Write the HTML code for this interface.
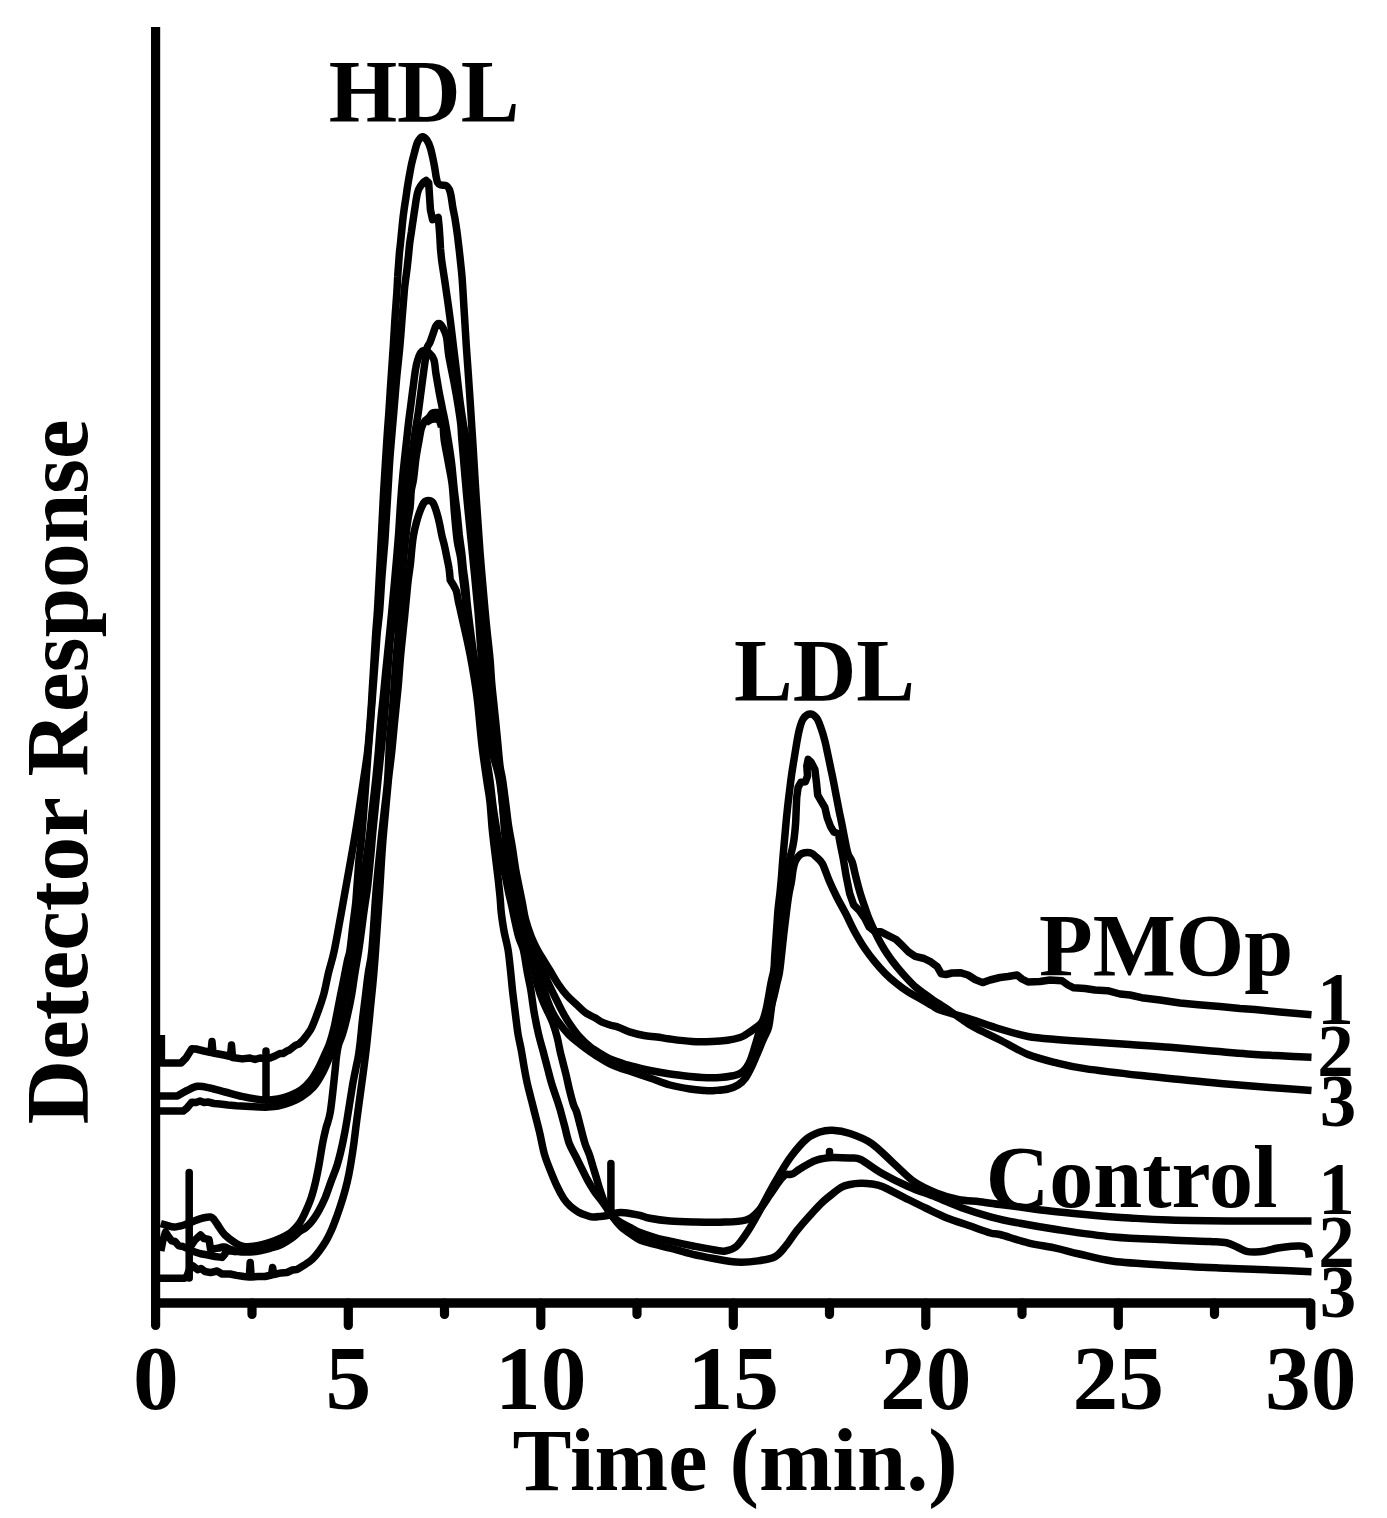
<!DOCTYPE html>
<html lang="en">
<head>
<meta charset="utf-8">
<title>Lipoprotein profile chromatogram</title>
<style>
html,body{margin:0;padding:0;background:#fff;}
body{width:1387px;height:1518px;overflow:hidden;}
svg{display:block;}
text{font-family:"Liberation Serif","DejaVu Serif",serif;font-weight:bold;fill:#000;}
.ax{fill:none;stroke:#000;stroke-width:9.7;stroke-linecap:round;stroke-linejoin:miter;}
.tk{fill:none;stroke:#000;stroke-width:9.2;stroke-linecap:round;}
.cv{fill:none;stroke:#000;stroke-width:7.5;stroke-linecap:butt;stroke-linejoin:round;}
</style>
</head>
<body>
<svg width="1387" height="1518" viewBox="0 0 1387 1518">
<rect width="1387" height="1518" fill="#fff"/>
<!-- AXES -->
<g id="axes">
<path class="ax" d="M155.6 27 V1303" style="stroke-linecap:butt;stroke-width:9.2"/>
<path class="ax" d="M151 1303 H1311" style="stroke-linecap:butt"/>
<path class="tk" d="M155.6 1303V1325.4 M348.3 1303V1325.4 M540.8 1303V1325.4 M733.3 1303V1325.4 M925.8 1303V1325.4 M1118.3 1303V1325.4 M1310.8 1303V1325.4"/>
<path class="tk" d="M252 1303V1314.4 M444.5 1303V1314.4 M637 1303V1314.4 M829.5 1303V1314.4 M1022 1303V1314.4 M1214.5 1303V1314.4"/>
</g>
<!-- CURVES -->
<g id="curves">
<g class="cv">
<path id="P1" d="M161.4 1035.0L161.4 1063.0L181.0 1063.0L186.0 1058.0L191.8 1048.8L196.0 1049.0L204.0 1051.0L211.0 1052.5L212.0 1041.5L213.0 1053.0L224.0 1055.0L230.5 1056.5L231.5 1045.0L232.5 1057.5L242.3 1058.9L250.0 1058.0L255.0 1059.5L260.0 1058.0L264.0 1058.5L270.0 1058.0L275.0 1056.0L279.8 1053.5L283.0 1053.5L287.0 1051.0L290.0 1049.7L295.6 1045.2L299.0 1044.0L303.4 1039.6 C304.7 1037.7 308.9 1033.1 311.3 1028.4C313.7 1023.7 315.9 1017.2 318.0 1011.6C320.1 1006.0 321.8 1001.3 323.6 994.8C325.4 988.3 326.8 979.9 328.6 972.4C330.4 964.9 332.2 960.6 334.4 950.0C336.6 939.4 339.9 920.3 342.0 908.8C344.1 897.3 345.2 890.7 347.0 880.8C348.8 870.9 351.1 858.0 352.6 849.4C354.1 840.8 354.9 836.2 356.0 829.3C357.1 822.4 358.1 816.2 359.3 808.0C360.6 799.8 362.2 788.7 363.5 780.0C364.8 771.3 366.1 763.4 367.1 755.6C368.1 747.8 368.7 740.7 369.3 733.2C369.9 725.7 370.4 719.2 371.0 710.8C371.6 702.4 372.1 692.1 372.7 682.8C373.3 673.5 373.9 663.2 374.4 654.8C374.9 646.4 375.3 639.9 375.8 632.4C376.3 624.9 376.8 621.5 377.5 610.0C378.2 598.5 379.3 576.6 380.0 563.2C380.7 549.8 381.1 540.8 381.7 529.6C382.3 518.4 382.8 506.3 383.4 496.0C384.0 485.7 384.5 477.7 385.1 468.0C385.7 458.3 386.4 447.1 387.0 438.0C387.6 428.9 388.1 422.9 388.8 413.2C389.5 403.5 390.2 390.8 391.0 379.6C391.8 368.4 392.6 356.3 393.3 346.0C394.0 335.7 394.4 327.3 395.0 318.0C395.6 308.7 396.6 296.9 397.0 290.0C397.4 283.1 397.4 280.9 397.7 276.8C397.9 272.7 398.2 269.3 398.5 265.6C398.8 261.9 399.0 258.1 399.3 254.4C399.6 250.7 400.1 246.9 400.5 243.2C400.9 239.5 401.2 235.7 401.6 232.0C402.0 228.3 402.3 224.5 402.7 220.8C403.1 217.1 403.6 213.3 404.1 209.6C404.6 205.9 405.2 202.1 405.8 198.4C406.4 194.7 406.8 190.9 407.4 187.2C408.0 183.5 408.6 179.7 409.3 176.0C410.0 172.3 410.6 168.5 411.4 164.8C412.2 161.1 413.2 157.3 414.2 153.6C415.2 149.9 416.2 145.2 417.5 142.4C418.8 139.6 420.4 137.2 422.0 136.8C423.6 136.4 425.6 138.3 427.0 140.2C428.4 142.1 429.5 145.2 430.4 148.0C431.3 150.8 431.9 153.8 432.6 157.0C433.3 160.2 434.0 163.8 434.6 167.0C435.2 170.2 435.5 173.4 436.0 176.0C436.5 178.6 436.9 181.2 437.7 182.7C438.5 184.2 439.6 184.5 441.0 185.0C442.4 185.5 444.7 184.8 446.1 185.5C447.5 186.2 448.6 187.6 449.4 189.4C450.2 191.2 450.5 193.2 451.1 196.2C451.7 199.2 452.2 203.7 452.8 207.4C453.4 211.1 454.4 214.9 455.0 218.6C455.6 222.3 456.1 225.7 456.7 229.8C457.3 233.9 457.9 239.1 458.4 243.2C458.9 247.3 459.3 250.7 459.7 254.4C460.1 258.1 460.5 261.9 460.9 265.6C461.3 269.3 461.7 272.7 462.0 276.8C462.3 280.9 462.5 283.1 462.9 290.0C463.3 296.9 464.0 308.7 464.6 318.0C465.2 327.3 465.7 336.7 466.3 346.0C466.9 355.3 467.7 364.7 468.3 374.0C468.9 383.3 469.6 392.7 470.2 402.0C470.8 411.3 471.6 423.3 472.0 430.0C472.4 436.7 472.1 431.0 472.8 442.0C473.5 453.0 474.9 477.7 476.1 496.0C477.3 514.3 478.5 533.0 480.0 552.0C481.5 571.0 483.7 595.7 485.0 610.0C486.3 624.3 486.9 629.6 487.8 638.0C488.7 646.4 489.5 652.9 490.1 660.4C490.8 667.9 491.1 676.3 491.7 682.8C492.2 689.3 492.7 693.1 493.4 699.6C494.1 706.1 494.9 714.5 495.7 722.0C496.4 729.5 497.2 736.9 497.9 744.4C498.6 751.9 499.3 760.9 500.1 766.8C500.9 772.7 501.7 774.1 502.6 780.0C503.5 785.9 504.6 794.9 505.6 802.4C506.6 809.9 507.3 817.3 508.4 824.8C509.5 832.3 511.1 839.7 512.3 847.2C513.5 854.7 514.6 863.1 515.7 869.6C516.8 876.1 517.9 880.8 519.0 886.4C520.1 892.0 521.3 897.6 522.4 903.2C523.5 908.8 524.2 914.4 525.7 920.0C527.2 925.6 529.3 931.8 531.3 936.8C533.3 941.8 535.5 946.1 537.5 950.0C539.5 953.9 541.4 956.6 543.5 960.0C545.6 963.4 547.5 966.4 550.0 970.5C552.5 974.6 555.7 980.3 558.5 984.5C561.3 988.7 564.0 992.2 567.0 995.5C570.0 998.8 573.5 1001.7 576.5 1004.5C579.5 1007.3 582.0 1010.2 585.2 1012.5C588.4 1014.8 593.0 1016.7 595.8 1018.3C598.6 1019.9 599.6 1021.1 602.0 1022.2C604.4 1023.3 607.2 1024.1 610.0 1025.0C612.8 1025.9 615.8 1026.3 619.0 1027.5C622.2 1028.7 625.2 1030.6 629.4 1031.9C633.5 1033.2 639.3 1034.7 643.9 1035.5C648.5 1036.3 652.6 1036.4 657.0 1037.0C661.4 1037.6 664.2 1038.2 670.0 1039.0C675.8 1039.8 685.0 1041.1 692.0 1041.5C699.0 1041.9 706.1 1041.7 712.0 1041.5C717.9 1041.3 722.9 1040.9 727.6 1040.2C732.3 1039.5 736.9 1038.5 740.0 1037.5C743.1 1036.5 743.9 1035.8 746.0 1034.5C748.1 1033.2 750.1 1032.0 752.7 1030.0C755.3 1028.0 759.5 1025.6 761.7 1022.4C763.9 1019.2 764.7 1014.7 765.7 1011.0C766.8 1007.3 767.1 1004.7 768.0 1000.0C768.9 995.3 770.1 987.7 771.0 983.0C771.9 978.3 772.5 976.7 773.5 972.0C774.5 967.3 776.1 959.7 777.0 955.0C777.9 950.3 778.3 948.7 779.0 944.0C779.7 939.3 780.4 932.7 781.0 927.0C781.6 921.3 782.3 915.6 782.8 910.0C783.3 904.4 783.6 898.3 784.0 893.6C784.4 888.9 784.8 885.9 785.3 882.0C785.8 878.1 786.2 874.2 787.0 870.0C787.8 865.8 789.3 860.5 790.2 856.8C791.1 853.1 791.8 851.0 792.5 847.8C793.2 844.6 793.7 841.8 794.2 837.7C794.7 833.6 795.3 827.5 795.6 823.2C795.9 818.9 796.0 813.9 796.1 812.0 L796.7 797.4L798.1 787.4L800.9 782.3L805.4 781.8L807.5 776.0L806.8 766.0L808.2 759.4L811.0 762.0L814.9 769.4L816.5 782.9L817.7 795.2L821.6 801.9L824.9 807.5L827.2 817.6L830.5 826.5L833.9 832.1L838.4 833.8L840.6 845.6L842.9 856.8L843.5 860.0L846.3 876.8L849.7 893.6L853.6 904.8L859.2 910.4L864.8 918.2L869.3 927.2L874.9 931.7L880.5 931.7L888.3 935.6L896.1 939.5L902.9 946.2L908.5 951.8L915.2 956.3L924.1 958.5L930.9 961.9L937.0 966.4L941.3 973.9L946.0 974.5L952.0 973.0L960.9 972.8L968.0 975.0L975.0 979.5L982.6 982.6L990.0 980.0L1000.0 977.5L1008.0 976.5L1017.0 975.0L1022.0 979.0L1028.0 982.0L1040.0 981.5L1050.0 980.0L1062.0 980.7L1068.0 985.0L1073.7 987.8L1085.0 988.5L1095.0 990.0L1107.6 990.7L1120.0 994.0L1130.0 995.0L1141.6 997.7L1160.0 1000.0L1180.0 1003.0L1198.3 1004.8L1220.0 1006.5L1240.0 1008.5L1255.0 1009.5L1280.0 1012.0L1311.5 1014.7"/>
<path id="P2" d="M160.0 1096.0L177.4 1096.0 C179.0 1095.1 183.6 1092.1 187.0 1090.5C190.4 1088.9 193.8 1086.7 197.6 1086.3C201.4 1085.9 205.4 1087.0 210.0 1088.0C214.6 1089.0 220.0 1090.7 225.0 1092.0C230.0 1093.3 233.8 1094.7 240.0 1096.0C246.2 1097.3 256.2 1099.5 262.5 1100.0C268.8 1100.5 273.4 1099.8 278.0 1099.0C282.6 1098.2 286.1 1097.0 290.0 1095.5C293.9 1094.0 297.7 1092.4 301.2 1089.8C304.7 1087.2 308.1 1083.6 311.0 1080.0C313.9 1076.4 316.2 1072.3 318.5 1068.0C320.8 1063.7 323.2 1058.0 325.0 1054.0C326.8 1050.0 327.9 1048.3 329.4 1044.0C330.9 1039.7 332.6 1033.8 333.9 1028.4C335.2 1023.0 336.2 1017.2 337.3 1011.6C338.4 1006.0 339.5 1000.4 340.6 994.8C341.7 989.2 342.9 983.6 344.0 978.0C345.1 972.4 346.3 965.9 347.3 961.2C348.3 956.5 349.1 955.9 350.0 950.0C350.9 944.1 351.9 933.4 352.9 925.6C353.8 917.8 354.9 910.7 355.7 903.2C356.4 895.7 356.8 888.3 357.4 880.8C358.0 873.3 358.6 864.2 359.1 858.4C359.7 852.6 360.2 850.9 360.7 846.0C361.2 841.1 361.8 835.3 362.3 829.0C362.9 822.7 363.4 816.2 364.0 808.0C364.6 799.8 365.4 789.7 366.1 780.0C366.8 770.3 367.6 759.7 368.3 750.0C369.0 740.3 369.9 730.4 370.5 722.0C371.1 713.6 371.6 707.1 372.2 699.6C372.8 692.1 373.3 684.7 373.9 677.2C374.5 669.7 375.0 662.3 375.6 654.8C376.2 647.3 376.6 639.9 377.3 632.4C378.0 624.9 378.9 619.7 379.7 610.0C380.5 600.3 381.2 585.9 382.1 574.4C383.0 562.9 384.1 551.1 384.9 540.8C385.6 530.5 386.0 522.1 386.6 512.8C387.2 503.5 387.8 493.2 388.3 484.8C388.8 476.4 389.1 469.7 389.6 462.4C390.1 455.1 390.6 449.2 391.3 441.0C392.0 432.8 392.8 423.4 393.7 413.2C394.6 403.0 395.5 390.8 396.5 379.6C397.5 368.4 399.0 356.3 399.9 346.0C400.8 335.7 401.4 327.3 402.1 318.0C402.9 308.7 403.8 296.9 404.4 290.0C405.0 283.1 405.5 280.9 406.0 276.8C406.5 272.7 407.0 269.3 407.4 265.6C407.8 261.9 408.2 258.1 408.6 254.4C409.0 250.7 409.2 246.9 409.7 243.2C410.2 239.5 410.8 235.7 411.4 232.0C411.9 228.3 412.4 224.5 413.0 220.8C413.6 217.1 414.1 213.3 414.7 209.6C415.3 205.9 415.8 201.8 416.4 198.4C417.0 195.0 417.5 192.0 418.6 189.4C419.7 186.8 421.8 184.2 423.1 182.7C424.4 181.2 425.7 180.9 426.2 180.5 L428.7 182.7L429.3 192.8L430.4 209.6L432.6 219.7L436.0 218.5L438.2 217.4L439.1 226.4L439.9 237.6L440.5 248.8L441.6 260.0L443.3 271.2L445.0 282.4L446.1 290.0 C446.8 294.7 448.8 308.7 450.0 318.0C451.2 327.3 452.3 336.7 453.4 346.0C454.5 355.3 455.7 364.7 456.8 374.0C457.9 383.3 459.0 393.5 460.1 402.0C461.2 410.5 462.5 418.7 463.5 425.0C464.5 431.3 464.8 428.2 466.0 440.0C467.2 451.8 469.3 477.3 471.0 496.0C472.7 514.7 474.2 533.0 476.0 552.0C477.8 571.0 479.9 592.8 481.5 610.0C483.1 627.2 484.1 640.7 485.4 655.0C486.6 669.3 487.3 681.2 489.0 696.0C490.7 710.8 493.4 730.0 495.5 744.0C497.6 758.0 499.4 764.7 501.5 780.0C503.6 795.3 505.8 819.2 508.0 836.0C510.2 852.8 512.5 866.8 515.0 880.8C517.5 894.8 519.8 908.5 523.0 920.0C526.2 931.5 531.5 942.3 534.5 950.0C537.5 957.7 538.8 960.6 541.0 966.0C543.2 971.4 545.4 976.8 548.0 982.5C550.6 988.2 554.1 995.2 556.5 1000.0C558.9 1004.8 560.0 1007.4 562.3 1011.5C564.5 1015.6 567.2 1020.3 570.0 1024.4C572.8 1028.5 575.6 1032.5 579.0 1036.3C582.4 1040.1 586.5 1044.0 590.3 1047.0C594.1 1050.0 598.7 1052.5 602.0 1054.5C605.3 1056.5 607.0 1057.7 610.0 1059.0C613.0 1060.3 616.8 1061.4 620.0 1062.5C623.2 1063.6 624.4 1064.2 629.4 1065.5C634.4 1066.8 643.2 1069.1 650.0 1070.5C656.8 1071.9 663.3 1073.0 670.0 1074.0C676.7 1075.0 684.7 1075.9 690.0 1076.5C695.3 1077.1 697.0 1077.3 702.0 1077.5C707.0 1077.7 714.8 1077.8 720.0 1077.5C725.2 1077.2 729.5 1076.5 733.0 1075.8C736.5 1075.0 738.8 1074.4 741.0 1073.0C743.2 1071.6 744.9 1069.7 746.5 1067.5C748.1 1065.3 749.3 1062.8 750.5 1060.0C751.7 1057.2 752.5 1054.2 753.5 1051.0C754.5 1047.8 755.4 1044.5 756.5 1041.0C757.6 1037.5 758.5 1033.1 760.0 1030.0C761.5 1026.9 764.2 1025.6 765.8 1022.4C767.4 1019.2 768.3 1014.7 769.5 1011.0C770.7 1007.3 771.8 1004.7 773.0 1000.0C774.2 995.3 775.9 987.7 777.0 983.0C778.1 978.3 778.8 976.7 779.5 972.0C780.2 967.3 781.0 959.7 781.5 955.0C782.0 950.3 782.2 948.7 782.7 944.0C783.2 939.3 783.9 932.7 784.6 927.0C785.3 921.3 786.0 915.6 786.7 910.0C787.4 904.4 788.2 898.2 789.0 893.6C789.8 889.0 790.6 886.3 791.3 882.4C792.0 878.5 792.4 873.4 793.0 870.0C793.6 866.6 794.1 864.2 795.0 862.0C795.9 859.8 796.9 858.2 798.1 856.8C799.3 855.4 800.4 854.2 802.0 853.5C803.6 852.8 805.9 852.5 807.6 852.5C809.3 852.5 810.6 852.8 812.0 853.5C813.4 854.2 814.3 855.1 816.0 856.8C817.7 858.4 820.0 859.5 822.2 863.4C824.4 867.3 826.6 874.6 829.0 880.2C831.4 885.8 834.0 891.4 836.8 897.0C839.6 902.6 842.8 908.0 845.8 913.8C848.8 919.6 851.5 925.9 854.7 931.7C857.9 937.5 861.4 943.5 864.8 948.5C868.2 953.5 871.5 957.8 874.9 961.9C878.2 966.0 881.4 969.5 884.9 973.1C888.4 976.7 892.2 980.0 896.1 983.2C900.0 986.4 904.4 989.6 908.5 992.2C912.6 994.8 916.9 996.7 920.8 998.9C924.7 1001.1 928.8 1003.8 932.0 1005.6C935.2 1007.5 936.2 1008.5 940.0 1010.0C943.8 1011.5 949.7 1012.9 955.0 1014.5C960.3 1016.1 964.2 1017.2 971.7 1019.6C979.2 1022.0 990.6 1026.2 1000.0 1029.0C1009.4 1031.8 1018.7 1034.8 1028.0 1036.5C1037.3 1038.2 1046.5 1038.7 1056.0 1039.5C1065.5 1040.3 1072.7 1040.8 1085.0 1041.6C1097.3 1042.4 1115.8 1043.5 1130.0 1044.5C1144.2 1045.5 1156.3 1046.2 1170.0 1047.3C1183.7 1048.4 1197.8 1049.8 1212.0 1051.0C1226.2 1052.2 1242.8 1053.6 1255.0 1054.4C1267.2 1055.2 1275.6 1055.5 1285.0 1056.0C1294.4 1056.5 1307.1 1057.0 1311.5 1057.2"/>
<path id="P3" d="M160.0 1111.1L183.2 1111.1L187.0 1108.0L191.8 1102.2L196.0 1102.5L200.0 1101.0L204.0 1102.5L208.0 1102.0L214.0 1103.5L220.0 1104.0L228.0 1105.0L236.5 1105.8L250.0 1106.5L265.4 1107.2 C267.5 1107.0 273.9 1106.8 278.0 1106.0C282.1 1105.2 286.1 1104.1 290.0 1102.6C293.9 1101.1 297.3 1099.8 301.2 1097.2C305.1 1094.6 310.0 1090.9 313.5 1087.0C317.0 1083.1 319.4 1078.8 322.0 1074.0C324.6 1069.2 327.1 1063.0 329.0 1058.5C330.9 1054.0 331.9 1052.0 333.4 1047.0C334.9 1042.0 336.6 1034.3 337.9 1028.4C339.2 1022.5 340.2 1017.2 341.3 1011.6C342.4 1006.0 343.5 1000.4 344.6 994.8C345.7 989.2 346.9 983.6 348.0 978.0C349.1 972.4 350.4 965.9 351.3 961.2C352.2 956.5 352.6 956.0 353.5 950.0C354.4 944.0 355.8 932.8 357.0 925.0C358.2 917.2 359.4 910.5 360.5 903.0C361.6 895.5 362.5 887.5 363.5 880.0C364.5 872.5 365.5 865.3 366.5 858.0C367.5 850.7 368.5 844.3 369.5 836.0C370.5 827.7 371.5 817.3 372.5 808.0C373.5 798.7 374.7 789.7 375.7 780.0C376.7 770.3 377.7 759.7 378.5 750.0C379.3 740.3 379.9 730.4 380.7 722.0C381.4 713.6 382.2 707.1 383.0 699.6C383.8 692.1 384.6 683.7 385.2 677.2C385.8 670.7 386.3 666.0 386.9 660.4C387.5 654.8 388.0 649.2 388.6 643.6C389.2 638.0 389.8 632.4 390.3 626.8C390.9 621.2 391.1 618.7 391.9 610.0C392.7 601.3 394.1 586.9 395.2 574.4C396.3 561.9 397.6 547.3 398.5 535.2C399.4 523.1 399.9 511.9 400.7 501.6C401.4 491.3 402.0 483.7 403.0 473.6C404.0 463.5 405.5 450.3 406.5 441.2C407.5 432.1 408.2 425.3 409.0 418.8C409.8 412.3 410.5 407.6 411.2 402.0C411.9 396.4 412.6 390.8 413.4 385.2C414.1 379.6 414.9 372.7 415.7 368.4C416.4 364.1 417.1 362.0 417.9 359.4C418.7 356.8 419.5 354.5 420.5 353.0C421.5 351.5 422.4 350.7 423.7 350.5C424.9 350.3 426.3 350.5 428.0 352.0C429.7 353.5 432.5 355.7 433.8 359.4C435.1 363.1 435.1 368.8 436.0 374.0C436.9 379.2 437.9 385.2 438.9 390.8C439.9 396.4 441.1 402.0 442.2 407.6C443.3 413.2 444.6 418.8 445.6 424.4C446.6 430.0 447.4 434.9 448.4 441.2C449.4 447.5 450.5 454.2 451.5 462.4C452.5 470.6 453.4 482.0 454.3 490.4C455.2 498.8 456.3 505.3 457.1 512.8C457.9 520.3 458.6 528.7 459.3 535.2C460.1 541.7 460.9 546.4 461.6 552.0C462.3 557.6 462.7 563.2 463.3 568.8C463.9 574.4 464.7 578.7 465.5 585.6C466.3 592.5 466.5 598.4 467.9 610.0C469.3 621.6 471.6 640.7 473.8 655.0C476.0 669.3 478.3 681.2 481.0 696.0C483.7 710.8 486.9 730.0 490.0 744.0C493.1 758.0 496.8 764.7 499.5 780.0C502.2 795.3 503.8 819.3 506.0 836.0C508.2 852.7 510.1 866.0 512.5 880.0C514.9 894.0 517.4 908.3 520.5 920.0C523.6 931.7 528.3 942.3 531.0 950.0C533.7 957.7 534.7 960.5 536.5 966.0C538.3 971.5 540.2 977.3 542.0 983.0C543.8 988.7 545.5 995.1 547.3 1000.0C549.0 1004.9 550.8 1009.0 552.5 1012.5C554.2 1016.0 555.0 1017.5 557.8 1021.2C560.5 1025.0 565.3 1031.2 569.0 1035.0C572.7 1038.8 576.5 1041.3 580.2 1044.2C583.9 1047.1 587.6 1049.8 591.2 1052.3C594.8 1054.8 598.9 1057.3 602.0 1059.2C605.1 1061.1 607.0 1062.3 610.0 1063.8C613.0 1065.3 616.8 1066.8 620.0 1068.0C623.2 1069.2 624.4 1069.3 629.4 1071.0C634.4 1072.7 643.2 1075.7 650.0 1078.0C656.8 1080.3 663.3 1083.2 670.0 1085.0C676.7 1086.8 684.2 1088.1 690.0 1089.0C695.8 1089.9 700.8 1090.2 705.0 1090.5C709.2 1090.8 711.2 1090.8 715.0 1090.5C718.8 1090.2 724.2 1089.9 728.0 1089.0C731.8 1088.1 735.1 1086.8 738.0 1085.0C740.9 1083.2 743.2 1081.2 745.5 1078.0C747.8 1074.8 749.9 1070.3 752.0 1066.0C754.1 1061.7 756.2 1056.3 758.0 1052.0C759.8 1047.7 761.4 1043.7 763.0 1040.0C764.6 1036.3 766.6 1032.9 767.7 1030.0C768.8 1027.1 769.0 1025.6 769.5 1022.4C770.0 1019.2 770.5 1014.7 771.0 1011.0C771.5 1007.3 771.9 1004.7 772.3 1000.0C772.7 995.3 773.0 987.7 773.3 983.0C773.6 978.3 773.8 976.7 774.0 972.0C774.2 967.3 774.5 959.7 774.8 955.0C775.1 950.3 775.3 948.7 775.6 944.0C775.9 939.3 776.4 932.7 776.8 927.0C777.2 921.3 777.5 915.6 778.0 910.0C778.5 904.4 779.4 898.2 779.9 893.6C780.4 889.0 780.6 886.3 781.0 882.4C781.4 878.5 781.7 874.3 782.0 870.0C782.3 865.7 782.6 861.8 783.0 856.8C783.4 851.8 784.0 845.6 784.5 840.0C785.0 834.4 785.5 828.8 786.0 823.2C786.5 817.6 787.1 812.0 787.7 806.4C788.3 800.8 789.0 795.2 789.7 789.6C790.4 784.0 791.1 778.0 791.9 772.8C792.6 767.6 793.5 762.9 794.2 758.2C795.0 753.5 795.6 749.5 796.4 744.8C797.2 740.1 798.1 734.5 799.2 730.2C800.3 725.9 801.3 721.7 803.1 719.0C804.9 716.3 807.6 714.3 809.8 714.1C812.0 713.9 814.6 715.6 816.5 717.9C818.4 720.2 819.6 724.1 821.0 728.0C822.4 731.9 823.9 737.1 825.0 741.4C826.1 745.7 826.8 749.5 827.7 753.8C828.6 758.1 829.6 762.7 830.5 767.2C831.4 771.7 832.4 775.9 833.3 780.6C834.2 785.3 835.2 790.4 836.1 795.2C837.0 800.1 838.0 805.0 838.9 809.7C839.8 814.4 840.8 818.5 841.7 823.2C842.6 827.9 843.5 832.7 844.5 837.7C845.5 842.7 846.6 849.4 847.9 853.4C849.2 857.4 850.9 858.1 852.2 862.0C853.5 865.9 854.4 871.5 855.8 876.8C857.1 882.1 858.8 888.6 860.3 893.6C861.8 898.6 863.3 902.7 864.8 907.0C866.3 911.3 867.8 915.7 869.3 919.4C870.8 923.1 872.3 926.2 873.8 929.4C875.3 932.6 876.5 935.2 878.2 938.4C879.9 941.6 881.8 945.1 883.8 948.5C885.8 951.9 888.1 955.1 890.5 958.5C892.9 961.9 895.6 965.2 898.4 968.6C901.2 972.0 904.3 975.5 907.3 978.7C910.3 981.9 913.3 985.1 916.3 987.7C919.3 990.3 922.5 992.4 925.3 994.4C928.1 996.4 930.6 998.3 933.1 1000.0C935.6 1001.7 937.2 1002.7 940.0 1004.5C942.8 1006.3 946.3 1008.5 950.0 1011.0C953.7 1013.5 958.3 1017.0 962.0 1019.5C965.7 1022.0 968.6 1024.0 972.0 1026.0C975.4 1028.0 977.9 1029.2 982.6 1031.5C987.3 1033.8 992.4 1036.2 1000.0 1040.0C1007.6 1043.8 1018.5 1050.6 1028.0 1054.4C1037.5 1058.2 1047.2 1060.5 1056.7 1062.9C1066.2 1065.3 1070.8 1066.5 1085.0 1068.6C1099.2 1070.7 1124.9 1073.7 1141.6 1075.6C1158.3 1077.5 1170.8 1078.6 1185.0 1080.0C1199.2 1081.4 1212.4 1082.8 1226.6 1084.0C1240.8 1085.2 1255.8 1086.4 1270.0 1087.5C1284.2 1088.6 1304.6 1089.9 1311.5 1090.4"/>
<path id="K1" d="M160.0 1278.3L184.6 1278.3L187.0 1276.0L189.2 1270.0 L193.0 1266.0L197.6 1269.7L201.0 1268.5L205.0 1271.5L210.6 1272.6L217.0 1271.0L222.0 1274.0L230.0 1274.0L236.5 1275.4L244.0 1276.5L249.3 1277.0L250.2 1262.5L251.2 1277.0L258.0 1276.5L265.0 1276.5L271.5 1275.0L272.6 1267.5L273.8 1274.5L281.2 1272.9L287.0 1272.5L292.4 1270.0L297.0 1269.5L303.6 1265.6 C305.1 1264.5 310.0 1261.3 312.6 1258.9C315.2 1256.5 317.1 1254.0 319.3 1251.0C321.5 1248.0 323.9 1244.5 326.0 1241.0C328.1 1237.5 329.7 1234.1 331.6 1229.8C333.5 1225.5 335.3 1220.4 337.2 1215.2C339.1 1210.0 341.1 1204.0 342.8 1198.4C344.5 1192.8 346.0 1187.2 347.3 1181.6C348.6 1176.0 349.5 1171.3 350.6 1164.8C351.7 1158.3 353.0 1149.9 354.0 1142.4C355.0 1134.9 355.5 1129.7 356.8 1120.0C358.1 1110.3 360.4 1093.1 361.6 1084.4C362.8 1075.7 363.2 1073.2 363.9 1067.6C364.6 1062.0 365.2 1057.3 366.0 1050.8C366.8 1044.3 367.6 1035.9 368.4 1028.4C369.2 1020.9 369.8 1014.4 370.6 1006.0C371.4 997.6 372.6 987.3 373.4 978.0C374.2 968.7 374.6 964.3 375.6 950.0C376.6 935.7 378.5 909.2 379.6 892.0C380.7 874.8 381.4 860.1 382.4 847.0C383.3 833.9 384.3 824.8 385.3 813.6C386.3 802.4 387.4 789.7 388.4 780.0C389.4 770.3 390.4 763.4 391.3 755.6C392.2 747.8 392.8 740.7 393.5 733.2C394.2 725.7 394.9 718.3 395.7 710.8C396.4 703.3 397.2 696.8 398.0 688.4C398.8 680.0 399.5 668.8 400.2 660.4C400.9 652.0 401.6 645.5 402.4 638.0C403.1 630.5 404.0 622.4 404.7 615.6C405.4 608.8 405.9 602.9 406.5 597.0C407.1 591.1 407.5 585.7 408.2 580.0C408.9 574.3 409.9 568.5 410.5 563.0C411.1 557.5 411.5 551.6 412.0 547.0C412.5 542.4 412.8 539.0 413.5 535.2C414.2 531.4 415.0 527.7 416.0 524.0C417.0 520.3 418.1 516.3 419.4 512.8C420.7 509.2 422.4 504.8 423.9 502.7C425.4 500.6 426.9 500.5 428.4 500.5C429.9 500.5 431.5 500.6 432.9 502.7C434.3 504.8 435.7 509.2 436.8 512.8C437.9 516.3 438.8 520.3 439.6 524.0C440.4 527.7 441.0 531.5 441.8 535.2C442.6 538.9 443.8 542.7 444.6 546.4C445.5 550.1 446.1 553.9 446.9 557.6C447.6 561.3 448.6 565.1 449.1 568.8C449.7 572.5 450.0 578.1 450.2 580.0 C450.7 580.8 452.0 582.6 453.0 584.5C454.0 586.4 455.5 588.2 456.4 591.2C457.3 594.2 457.8 598.8 458.6 602.4C459.4 606.0 459.1 604.2 461.0 613.0C462.9 621.8 467.6 641.2 470.2 655.0C472.8 668.8 475.0 681.2 476.9 696.0C478.8 710.8 480.2 730.0 481.8 744.0C483.4 758.0 485.3 770.3 486.7 780.0C488.1 789.7 489.1 793.7 490.0 802.0C490.9 810.3 491.4 820.7 492.3 830.0C493.2 839.3 494.6 849.5 495.6 858.0C496.6 866.5 497.6 874.4 498.4 881.0C499.1 887.6 499.6 892.4 500.1 897.6C500.6 902.8 500.6 906.4 501.2 912.0C501.8 917.6 502.9 924.7 504.0 931.0C505.1 937.3 507.0 943.1 508.1 950.0C509.2 956.9 509.9 964.9 510.7 972.4C511.5 979.9 512.1 987.3 513.0 994.8C513.9 1002.3 515.0 1010.7 515.8 1017.2C516.6 1023.7 517.1 1028.4 518.0 1034.0C518.9 1039.6 520.4 1045.2 521.4 1050.8C522.4 1056.4 523.3 1062.4 524.2 1067.6C525.1 1072.8 526.0 1077.5 527.0 1082.2C528.0 1086.9 529.2 1091.1 530.3 1095.6C531.4 1100.1 532.2 1102.9 533.7 1109.0C535.2 1115.1 537.8 1124.8 539.6 1132.4C541.4 1140.0 542.7 1148.3 544.6 1154.8C546.5 1161.3 548.7 1166.4 550.8 1171.6C552.9 1176.8 554.9 1181.7 557.0 1186.2C559.1 1190.7 561.5 1195.2 563.7 1198.5C565.9 1201.8 568.0 1204.1 570.4 1206.3C572.8 1208.5 575.6 1210.4 578.2 1211.9C580.8 1213.4 583.7 1214.5 586.1 1215.3C588.5 1216.1 590.4 1216.8 592.8 1217.0C595.2 1217.2 598.2 1216.7 600.6 1216.4C603.0 1216.2 605.1 1216.0 607.3 1215.5C609.5 1215.0 611.8 1214.0 614.0 1213.5C616.2 1213.0 618.1 1212.5 620.8 1212.5C623.5 1212.5 626.8 1213.0 630.0 1213.5C633.2 1214.0 636.7 1214.5 640.0 1215.3C643.3 1216.1 644.8 1217.2 649.8 1218.2C654.8 1219.2 662.8 1220.4 670.0 1221.0C677.2 1221.6 684.7 1221.8 693.0 1222.0C701.3 1222.2 711.2 1222.5 720.0 1222.2C728.8 1221.9 739.5 1222.0 746.0 1220.0C752.5 1218.0 755.0 1214.4 759.0 1210.3C763.0 1206.2 766.5 1199.8 769.7 1195.2C772.9 1190.7 775.5 1186.4 778.0 1183.0C780.5 1179.6 783.0 1176.4 785.0 1175.0C787.0 1173.6 788.6 1174.8 790.0 1174.5C791.4 1174.2 792.0 1174.3 793.5 1173.5C795.0 1172.7 796.8 1170.9 799.0 1169.5C801.2 1168.1 803.5 1166.6 806.5 1165.0C809.5 1163.4 813.0 1161.0 817.3 1159.8C821.6 1158.5 827.1 1157.8 832.5 1157.5C837.9 1157.2 845.1 1157.7 849.8 1158.0C854.5 1158.3 855.2 1156.9 860.6 1159.5C866.0 1162.1 874.3 1169.0 882.2 1173.5C890.1 1178.0 899.2 1182.5 908.2 1186.5C917.2 1190.5 927.3 1193.7 936.3 1197.3C945.3 1200.9 953.3 1204.8 962.3 1208.0C971.3 1211.2 980.8 1214.2 990.4 1216.8C1000.0 1219.3 1009.0 1221.2 1020.0 1223.3C1031.0 1225.4 1041.2 1227.2 1056.7 1229.5C1072.2 1231.8 1094.4 1235.2 1113.3 1237.0C1132.2 1238.8 1153.9 1239.2 1170.0 1240.0C1186.1 1240.8 1200.6 1241.0 1210.0 1241.5C1219.4 1242.0 1222.1 1241.9 1226.6 1242.8C1231.1 1243.7 1233.7 1245.6 1237.0 1247.0C1240.3 1248.4 1243.5 1250.5 1246.5 1251.3C1249.5 1252.1 1252.2 1252.0 1255.0 1252.0C1257.8 1252.0 1259.7 1252.0 1263.5 1251.3C1267.3 1250.6 1273.3 1248.8 1278.0 1248.0C1282.7 1247.2 1288.1 1246.5 1291.8 1246.2C1295.5 1245.9 1297.8 1245.9 1300.0 1246.0C1302.2 1246.1 1303.6 1246.2 1305.0 1247.0C1306.4 1247.8 1307.6 1248.8 1308.3 1250.5C1309.0 1252.2 1309.1 1256.3 1309.3 1257.5"/>
<path id="K2" d="M160.8 1251.0L163.0 1240.0L165.5 1232.0L168.0 1236.0L171.6 1240.8L175.0 1241.5L178.8 1245.9L183.0 1246.5L186.0 1248.0L191.0 1246.0L195.0 1240.0L200.5 1235.0L204.0 1238.5L209.0 1239.4L210.6 1249.5L215.0 1248.6L219.0 1248.0L223.0 1247.0L225.0 1247.0 C226.9 1247.7 232.2 1250.4 236.5 1251.2C240.8 1252.0 247.1 1252.1 251.0 1252.0C254.9 1251.9 256.8 1251.4 260.0 1250.8C263.2 1250.2 266.5 1249.3 270.0 1248.3C273.5 1247.3 277.5 1246.4 281.2 1244.6C284.9 1242.8 289.4 1239.7 292.4 1237.6C295.4 1235.5 296.8 1233.7 299.0 1232.0C301.2 1230.3 303.7 1229.2 305.8 1227.5C307.9 1225.8 309.3 1224.5 311.4 1221.9C313.5 1219.3 315.9 1215.7 318.2 1211.8C320.4 1207.9 322.8 1203.4 324.9 1198.4C327.0 1193.4 328.9 1187.2 331.0 1181.6C333.1 1176.0 335.2 1171.3 337.2 1164.8C339.2 1158.3 341.2 1149.9 342.8 1142.4C344.4 1134.9 345.4 1129.7 347.0 1120.0C348.6 1110.3 351.2 1093.1 352.7 1084.4C354.2 1075.7 355.1 1072.3 356.0 1067.6C356.9 1062.9 357.6 1061.1 358.3 1056.4C359.1 1051.7 359.8 1046.1 360.5 1039.6C361.2 1033.1 361.9 1024.7 362.8 1017.2C363.7 1009.7 364.7 1002.3 365.6 994.8C366.5 987.3 367.3 979.9 368.4 972.4C369.4 964.9 370.6 963.4 371.9 950.0C373.2 936.6 374.6 909.2 376.0 892.0C377.4 874.8 379.0 860.1 380.3 847.0C381.6 833.9 382.8 824.8 384.0 813.6C385.2 802.4 386.7 792.5 387.6 780.0C388.6 767.5 389.0 749.4 389.7 738.8C390.4 728.2 391.2 723.9 391.9 716.4C392.5 708.9 393.1 700.5 393.6 694.0C394.1 687.5 394.2 683.7 394.7 677.2C395.2 670.7 395.8 661.7 396.4 654.8C397.0 647.9 397.6 643.3 398.1 635.8C398.6 628.3 398.9 619.3 399.5 610.0C400.1 600.7 401.2 590.0 402.0 580.0C402.8 570.0 403.6 559.3 404.5 550.0C405.4 540.7 406.4 531.1 407.3 524.0C408.2 516.9 409.4 512.8 410.1 507.2C410.8 501.6 410.7 495.1 411.3 490.4C411.9 485.7 412.7 484.6 413.5 479.2C414.3 473.8 415.1 464.3 416.0 458.0C416.9 451.7 418.0 446.1 418.9 441.2C419.8 436.3 420.4 431.8 421.3 428.5C422.2 425.2 423.4 423.2 424.5 421.5C425.6 419.8 427.0 419.5 428.0 418.5C429.0 417.5 429.8 416.4 430.5 415.5C431.2 414.6 431.6 413.5 432.5 413.0C433.4 412.5 434.8 412.6 436.0 412.6C437.2 412.6 438.9 411.9 440.0 412.8C441.1 413.7 441.8 415.5 442.3 418.0C442.9 420.5 443.0 424.3 443.3 428.0C443.6 431.7 443.4 434.3 444.2 440.0C445.0 445.7 447.0 454.9 448.3 462.4C449.6 469.9 451.2 476.4 452.2 484.8C453.2 493.2 453.6 503.5 454.4 512.8C455.2 522.1 456.2 533.3 457.2 540.8C458.2 548.3 459.8 552.0 460.6 557.6C461.5 563.2 461.6 568.0 462.3 574.4C463.0 580.8 464.3 589.8 465.0 595.7C465.7 601.6 465.2 600.1 466.4 610.0C467.6 619.9 469.9 640.7 472.0 655.0C474.1 669.3 476.9 681.2 479.0 696.0C481.1 710.8 482.7 730.0 484.5 744.0C486.3 758.0 488.4 769.3 489.9 780.0C491.4 790.7 492.0 798.7 493.3 808.0C494.6 817.3 496.3 827.6 497.7 836.0C499.1 844.4 500.8 853.2 501.7 858.4C502.6 863.6 502.5 863.3 503.3 867.0C504.1 870.7 505.4 876.6 506.3 880.8C507.2 885.0 507.6 887.7 508.5 892.0C509.4 896.3 510.9 901.8 511.9 906.5C512.9 911.2 513.6 915.0 514.7 920.0C515.8 925.0 517.2 931.8 518.6 936.8C520.0 941.8 522.0 944.1 523.4 950.0C524.8 955.9 526.1 965.9 527.3 972.4C528.5 978.9 529.6 982.7 530.7 989.2C531.8 995.7 532.7 1004.1 534.0 1011.6C535.3 1019.1 537.0 1027.5 538.5 1034.0C540.0 1040.5 541.5 1045.2 543.0 1050.8C544.5 1056.4 545.9 1062.0 547.4 1067.6C548.9 1073.2 550.2 1078.8 551.9 1084.4C553.6 1090.0 556.1 1096.9 557.5 1101.2C558.9 1105.5 559.1 1105.7 560.3 1110.0C561.5 1114.3 563.3 1121.2 564.8 1126.8C566.3 1132.4 567.4 1138.6 569.3 1143.6C571.2 1148.6 574.0 1152.9 576.0 1157.0C578.0 1161.1 579.7 1164.5 581.6 1168.2C583.5 1171.9 585.2 1175.7 587.2 1179.4C589.2 1183.1 591.7 1187.2 593.9 1190.6C596.1 1194.0 598.5 1196.8 600.6 1199.6C602.7 1202.4 604.5 1205.0 606.2 1207.4C607.9 1209.8 609.2 1212.3 610.7 1214.2C612.2 1216.1 613.5 1217.6 615.2 1219.0C616.9 1220.4 618.0 1220.9 620.8 1222.5C623.6 1224.1 628.8 1226.8 632.0 1228.5C635.2 1230.2 636.2 1231.0 640.0 1232.5C643.8 1234.0 649.8 1236.0 655.0 1237.5C660.2 1239.0 665.1 1240.0 671.4 1241.4C677.7 1242.8 685.8 1244.6 693.0 1246.0C700.2 1247.4 709.3 1249.2 714.7 1250.0C720.1 1250.8 721.9 1251.6 725.5 1251.0C729.1 1250.4 732.5 1249.8 736.3 1246.5C740.0 1243.2 744.2 1236.8 748.0 1231.0C751.8 1225.2 755.5 1218.3 759.0 1212.0C762.5 1205.7 765.6 1199.3 769.0 1193.0C772.4 1186.7 775.9 1180.6 779.6 1174.4C783.3 1168.2 786.9 1161.9 791.4 1156.0C795.9 1150.1 801.7 1143.0 806.5 1139.0C811.3 1135.0 815.7 1133.5 820.0 1132.0C824.3 1130.5 827.5 1130.0 832.5 1130.3C837.5 1130.5 843.5 1131.3 850.0 1133.5C856.5 1135.7 864.2 1138.4 871.4 1143.3C878.6 1148.2 885.8 1156.2 893.0 1162.7C900.2 1169.2 907.5 1177.2 914.7 1182.2C921.9 1187.2 929.1 1190.1 936.3 1193.0C943.5 1195.9 950.8 1198.0 958.0 1199.5C965.2 1201.0 972.6 1200.9 979.6 1201.7C986.6 1202.5 993.3 1203.6 1000.0 1204.5C1006.7 1205.4 1011.7 1205.9 1020.0 1207.0C1028.3 1208.1 1039.2 1209.8 1050.0 1211.0C1060.8 1212.2 1071.7 1213.2 1085.0 1214.4C1098.3 1215.6 1115.8 1217.1 1130.0 1218.0C1144.2 1218.9 1151.7 1219.5 1170.0 1220.0C1188.3 1220.5 1216.4 1220.8 1240.0 1221.0C1263.6 1221.2 1299.6 1221.0 1311.5 1221.0 M426.0 422.5L431.0 419.5L436.0 418.5L439.5 420.5L441.5 427.0 M192.0 1251.0L200.5 1253.8L208.0 1255.0L215.0 1256.5L222.0 1257.4L225.0 1254.0L226.4 1251.0L231.0 1251.0L236.5 1251.7"/>
<path id="K3" d="M160.8 1223.5C161.8 1223.8 164.7 1224.9 167.0 1225.5C169.3 1226.1 171.7 1227.1 174.5 1227.0C177.3 1226.9 180.9 1225.9 184.0 1225.0C187.1 1224.1 190.1 1222.6 193.3 1221.4C196.5 1220.2 200.1 1218.7 203.0 1218.0C205.9 1217.3 208.8 1216.8 210.6 1217.0C212.4 1217.2 212.8 1218.2 214.0 1219.5C215.2 1220.8 216.0 1222.4 217.8 1225.0C219.6 1227.6 221.9 1231.9 225.0 1235.0C228.1 1238.1 233.4 1241.8 236.5 1243.7C239.6 1245.6 240.6 1246.1 243.7 1246.5C246.8 1246.9 250.9 1246.7 255.3 1246.0C259.7 1245.3 265.7 1243.6 270.0 1242.2C274.3 1240.8 277.6 1239.5 281.2 1237.8C284.8 1236.1 288.5 1234.3 291.5 1231.9C294.5 1229.5 297.0 1226.8 299.3 1223.5C301.6 1220.2 303.6 1216.0 305.5 1211.8C307.4 1207.6 309.3 1203.4 311.0 1198.4C312.7 1193.4 314.3 1187.2 315.6 1181.6C316.9 1176.0 317.8 1171.3 319.0 1164.8C320.2 1158.3 321.6 1148.5 322.8 1142.4C324.0 1136.3 324.8 1133.1 326.0 1128.0C327.2 1122.9 328.8 1121.1 330.3 1112.0C331.8 1102.9 333.8 1082.5 334.8 1073.2C335.8 1063.9 335.9 1061.1 336.5 1056.4C337.1 1051.7 337.5 1048.7 338.5 1045.0C339.5 1041.3 341.2 1038.6 342.6 1034.0C344.0 1029.4 345.5 1023.7 347.0 1017.2C348.5 1010.7 350.3 1002.3 351.6 994.8C352.9 987.3 353.8 979.9 355.0 972.4C356.2 964.9 357.2 960.6 358.8 950.0C360.4 939.4 362.8 919.7 364.3 909.0C365.8 898.3 366.7 894.5 367.7 886.0C368.7 877.5 369.5 868.2 370.5 858.0C371.5 847.8 372.2 838.0 373.5 825.0C374.8 812.0 376.5 794.4 378.0 780.0C379.5 765.6 381.2 749.4 382.3 738.8C383.4 728.2 383.9 723.9 384.5 716.4C385.1 708.9 385.7 700.5 386.2 694.0C386.7 687.5 386.8 683.7 387.3 677.2C387.8 670.7 388.4 661.7 389.0 654.8C389.6 647.9 389.8 643.3 390.7 635.8C391.6 628.3 393.2 620.3 394.5 610.0C395.8 599.7 397.2 586.5 398.5 574.0C399.8 561.5 400.9 547.0 402.0 535.0C403.1 523.0 403.9 512.2 405.0 502.0C406.1 491.8 407.2 483.2 408.5 474.0C409.8 464.8 411.9 454.1 413.0 446.8C414.1 439.5 414.5 435.6 415.4 430.0C416.3 424.4 417.4 418.8 418.2 413.2C419.0 407.6 419.7 402.0 420.4 396.4C421.1 390.8 421.9 385.2 422.6 379.6C423.4 374.0 424.1 368.0 424.9 362.8C425.6 357.6 426.3 351.6 427.1 348.2C427.9 344.8 429.0 344.8 429.9 342.6C430.8 340.4 431.7 337.6 432.7 334.8C433.7 332.0 434.9 327.7 436.0 325.8C437.1 323.9 438.2 323.2 439.4 323.6C440.6 324.0 441.8 325.8 443.0 328.0C444.2 330.2 445.5 332.2 446.5 337.0C447.5 341.8 447.8 349.9 449.0 357.0C450.2 364.1 452.1 372.1 453.5 379.6C454.9 387.1 456.3 394.5 457.5 402.0C458.7 409.5 460.1 418.1 460.8 424.4C461.5 430.7 460.9 428.1 461.9 440.0C462.9 451.9 465.0 477.3 466.7 496.0C468.4 514.7 470.4 533.0 472.3 552.0C474.2 571.0 476.4 592.8 477.9 610.0C479.4 627.2 480.0 640.7 481.2 655.0C482.4 669.3 483.0 681.2 485.0 696.0C487.0 710.8 490.4 730.0 493.0 744.0C495.6 758.0 498.3 764.7 500.3 780.0C502.3 795.3 503.4 819.3 505.0 836.0C506.6 852.7 507.9 866.0 510.0 880.0C512.1 894.0 514.6 908.3 517.5 920.0C520.4 931.7 524.9 942.2 527.5 950.0C530.1 957.8 531.5 961.2 533.1 966.8C534.7 972.4 535.4 978.0 537.0 983.6C538.6 989.2 540.7 995.5 542.6 1000.4C544.5 1005.2 546.5 1009.0 548.2 1012.7C549.9 1016.4 551.2 1018.7 552.7 1022.8C554.2 1026.9 556.0 1032.7 557.2 1037.4C558.4 1042.1 559.1 1046.7 560.0 1050.8C560.9 1054.9 561.8 1057.9 562.8 1062.0C563.8 1066.1 565.1 1070.7 566.2 1075.4C567.3 1080.1 568.3 1085.2 569.5 1090.0C570.7 1094.8 572.2 1100.8 573.4 1104.5C574.6 1108.2 575.4 1108.3 576.6 1112.0C577.8 1115.7 579.1 1121.5 580.5 1126.8C581.9 1132.1 583.5 1138.9 585.0 1143.6C586.5 1148.3 588.1 1151.1 589.4 1154.8C590.7 1158.5 591.7 1162.3 592.8 1166.0C593.9 1169.7 595.1 1173.5 596.2 1177.2C597.3 1180.9 598.3 1184.7 599.5 1188.4C600.7 1192.1 602.1 1196.2 603.4 1199.6C604.7 1202.9 605.9 1205.8 607.3 1208.5C608.7 1211.2 609.8 1213.0 612.0 1216.0C614.2 1219.0 617.5 1223.3 620.8 1226.5C624.1 1229.7 628.8 1232.8 632.0 1235.0C635.2 1237.2 636.2 1238.4 640.0 1240.0C643.8 1241.6 649.8 1243.1 655.0 1244.5C660.2 1245.9 665.1 1246.8 671.4 1248.5C677.7 1250.2 685.8 1252.7 693.0 1254.4C700.2 1256.1 707.5 1257.4 714.7 1258.7C721.9 1260.0 729.1 1261.6 736.3 1262.0C743.5 1262.4 751.5 1261.8 758.0 1260.9C764.5 1260.0 770.5 1259.1 775.2 1256.6C779.9 1254.1 782.4 1250.0 786.0 1245.7C789.6 1241.4 792.9 1235.6 796.9 1230.6C800.9 1225.6 806.0 1219.8 809.9 1215.5C813.8 1211.2 817.0 1207.6 820.0 1204.6C823.0 1201.6 824.7 1200.1 828.2 1197.3C831.7 1194.5 837.4 1189.6 841.0 1187.5C844.6 1185.4 846.7 1185.2 850.0 1184.5C853.3 1183.8 856.9 1183.4 860.6 1183.3C864.3 1183.2 868.4 1183.5 872.0 1184.0C875.6 1184.5 876.9 1184.3 882.2 1186.5C887.5 1188.7 896.7 1193.7 903.9 1197.3C911.1 1200.9 918.3 1204.6 925.5 1208.0C932.7 1211.4 939.8 1215.0 947.0 1217.9C954.2 1220.8 961.6 1223.0 968.8 1225.5C976.0 1228.0 985.2 1231.5 990.4 1233.0C995.6 1234.5 993.7 1232.9 1000.0 1234.5C1006.3 1236.1 1018.5 1240.5 1028.0 1242.8C1037.5 1245.1 1048.2 1246.5 1056.7 1248.4C1065.2 1250.3 1069.9 1251.9 1079.3 1254.0C1088.7 1256.1 1098.2 1259.3 1113.3 1261.2C1128.4 1263.1 1151.1 1264.2 1170.0 1265.4C1188.9 1266.6 1209.9 1267.5 1226.6 1268.3C1243.3 1269.1 1255.8 1269.4 1270.0 1270.0C1284.2 1270.6 1304.6 1271.4 1311.5 1271.7"/>
<path id="spikes" style="stroke-linecap:round" d="M266.0 1051.0L266.0 1098.0 M189.2 1278.0L189.2 1172.5 M610.9 1214.0L610.9 1163.5 M829.5 1157.0L829.5 1151.5"/>
</g>
</g>
<!-- LABELS -->
<g id="labels">
<text id="t_hdl" x="424" y="121.3" font-size="88" text-anchor="middle">HDL</text>
<text id="t_ldl" x="824.6" y="700.3" font-size="88" text-anchor="middle">LDL</text>
<text id="t_pmop" x="1166" y="975" font-size="88" text-anchor="middle">PMOp</text>
<text id="t_ctrl" x="1131.5" y="1207" font-size="88" text-anchor="middle">Control</text>
<text id="t_p1" x="1335.5" y="1024" font-size="73" text-anchor="middle">1</text>
<text id="t_p2" x="1335.5" y="1076" font-size="73" text-anchor="middle">2</text>
<text id="t_p3" x="1337.9" y="1126.4" font-size="73" text-anchor="middle">3</text>
<text id="t_c1" x="1336.4" y="1214" font-size="73" text-anchor="middle">1</text>
<text id="t_c2" x="1336.6" y="1267" font-size="73" text-anchor="middle">2</text>
<text id="t_c3" x="1337.9" y="1317.1" font-size="73" text-anchor="middle">3</text>
<text id="t_x0" x="155.8" y="1408.8" font-size="91.5" text-anchor="middle">0</text>
<text id="t_x5" x="348.3" y="1408.8" font-size="91.5" text-anchor="middle">5</text>
<text id="t_x10" x="540.8" y="1408.8" font-size="91.5" text-anchor="middle">10</text>
<text id="t_x15" x="733.3" y="1408.8" font-size="91.5" text-anchor="middle">15</text>
<text id="t_x20" x="925.8" y="1408.8" font-size="91.5" text-anchor="middle">20</text>
<text id="t_x25" x="1118.3" y="1408.8" font-size="91.5" text-anchor="middle">25</text>
<text id="t_x30" x="1310.8" y="1408.8" font-size="91.5" text-anchor="middle">30</text>
<text id="t_time" x="735.2" y="1490" font-size="88.4" text-anchor="middle">Time (min.)</text>
<text id="t_det" transform="translate(87.2 771.8) rotate(-90)" font-size="89.3" text-anchor="middle">Detector Response</text>
</g>
</svg>
</body>
</html>
